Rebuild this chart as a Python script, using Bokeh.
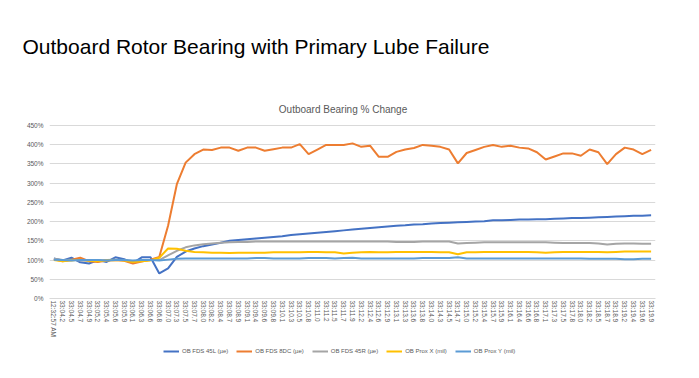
from bokeh.plotting import figure
from bokeh.layouts import column
from bokeh.models import (FactorRange, Range1d, FixedTicker, PrintfTickFormatter,
                          Legend, LegendItem, Label, Title)
from bokeh.embed import file_html
from bokeh.resources import INLINE

title_main = "Outboard Rotor Bearing with Primary Lube Failure"
title_chart = "Outboard Bearing % Change"

times = ["12:32:57 AM", "33:04.2", "33:04.5", "33:04.7", "33:04.9", "33:05.2", "33:05.4",
         "33:05.6", "33:05.9", "33:06.1", "33:06.3", "33:06.6", "33:06.8", "33:07.0",
         "33:07.3", "33:07.5", "33:07.7", "33:08.0", "33:08.2", "33:08.4", "33:08.7",
         "33:08.9", "33:09.1", "33:09.4", "33:09.6", "33:09.8", "33:10.1", "33:10.3",
         "33:10.5", "33:10.8", "33:11.0", "33:11.2", "33:11.5", "33:11.7", "33:11.9",
         "33:12.2", "33:12.4", "33:12.6", "33:12.9", "33:13.1", "33:13.3", "33:13.6",
         "33:13.8", "33:14.0", "33:14.3", "33:14.5", "33:14.7", "33:15.0", "33:15.2",
         "33:15.4", "33:15.7", "33:15.9", "33:16.1", "33:16.4", "33:16.6", "33:16.8",
         "33:17.1", "33:17.3", "33:17.5", "33:17.8", "33:18.0", "33:18.2", "33:18.5",
         "33:18.7", "33:18.9", "33:19.2", "33:19.4", "33:19.6", "33:19.9"]

fds_45l = [104, 99, 106, 94, 91, 100, 95, 107, 102, 92, 107, 107, 65, 78, 108, 122, 130, 136,
           140, 145, 150, 152, 154, 156, 158, 160, 162, 165, 167, 169, 171, 173, 175, 177,
           179, 181, 183, 185, 187, 189, 190, 192, 193, 195, 196, 197, 198, 199, 200, 201,
           203, 203, 204, 205, 205, 206, 206, 207, 208, 209, 209, 210, 211, 212, 213, 214,
           215, 215, 216]

fds_8dc = [102, 97, 101, 106, 97, 95, 99, 100, 98, 91, 96, 101, 108, 189, 297, 353, 375, 387,
           386, 392, 392, 384, 392, 392, 384, 388, 392, 392, 401, 375, 387, 399, 399, 399,
           403, 394, 397, 368, 368, 381, 387, 391, 399, 397, 394, 387, 351, 378, 386, 394,
           399, 394, 397, 392, 390, 380, 361, 369, 377, 377, 371, 387, 380, 349, 375, 392,
           387, 375, 386]

fds_45r = [103, 100, 101, 99, 98, 99, 100, 101, 100, 97, 98, 100, 100, 112, 124, 133, 138, 141,
           143, 145, 146, 147, 147, 148, 148, 148, 148, 148, 148, 148, 148, 148, 148, 148,
           148, 148, 148, 148, 148, 147, 147, 147, 148, 148, 148, 148, 143, 144, 145, 146,
           146, 146, 146, 146, 146, 146, 146, 145, 144, 144, 144, 144, 143, 140, 142, 143,
           143, 142, 142]

prox_x = [100, 97, 99, 101, 98, 97, 99, 100, 99, 95, 97, 99, 106, 130, 129, 124, 121, 120,
          119, 119, 118, 119, 119, 119, 119, 120, 120, 120, 120, 121, 121, 120, 120, 117,
          119, 120, 121, 120, 120, 121, 121, 121, 121, 121, 120, 120, 115, 120, 120, 121,
          121, 121, 121, 121, 121, 120, 119, 120, 121, 121, 121, 121, 121, 120, 121, 122,
          122, 122, 122]

prox_y = [101, 100, 99, 100, 100, 100, 99, 100, 100, 99, 100, 100, 99, 101, 103, 104, 104, 104,
          104, 104, 104, 104, 104, 105, 105, 104, 104, 104, 104, 105, 105, 105, 104, 105,
          106, 104, 104, 104, 104, 104, 104, 104, 105, 105, 105, 105, 107, 104, 104, 104,
          104, 104, 104, 104, 104, 104, 104, 104, 104, 104, 104, 103, 103, 103, 103, 102,
          102, 103, 103]

series_names = ["OB FDS 45L (\u00b5e)", "OB FDS 8DC (\u00b5e)", "OB FDS 45R (\u00b5e)",
                "OB Prox X (mil)", "OB Prox Y (mil)"]
series_values = [fds_45l, fds_8dc, fds_45r, prox_x, prox_y]
series_colors = ["#4472C4", "#ED7D31", "#A5A5A5", "#FFC000", "#5B9BD5"]
y_ticks = [0, 50, 100, 150, 200, 250, 300, 350, 400, 450]

FONT = "'Liberation Sans', sans-serif"
GREY_TEXT = "#595959"

# ---- chart figure ----
PX_PER_PCT = 173.2 / 450
TOP = 61
FRAME_H = 237
y_top = FRAME_H / PX_PER_PCT

p = figure(frame_width=606, frame_height=FRAME_H, output_backend="svg", toolbar_location=None,
           x_range=FactorRange(*times), y_range=Range1d(0, y_top),
           min_border_left=49, min_border_right=44, min_border_top=TOP,
           min_border_bottom=42)
p.outline_line_color = None
p.background_fill_color = "white"
p.border_fill_color = "white"
p.title.visible = False

p.add_layout(Title(text=title_main, align="left", offset=-27, standoff=8,
                   text_font=FONT, text_font_size="21px", text_font_style="normal",
                   text_color="#000000"), "above")

for name, vals, col in zip(series_names, series_values, series_colors):
    p.line(times, vals, line_color=col, line_width=2)

p.xgrid.grid_line_color = None
p.ygrid.grid_line_color = "#d9d9d9"
p.ygrid.grid_line_width = 1

ya = p.yaxis[0]
ya.ticker = FixedTicker(ticks=y_ticks)
ya.formatter = PrintfTickFormatter(format="%d%%")
ya.axis_line_color = None
ya.major_tick_line_color = None
ya.major_tick_out = 0
ya.minor_tick_line_color = None
ya.minor_tick_out = 0
ya.major_label_text_font = FONT
ya.major_label_text_font_size = "6.5px"
ya.major_label_text_color = GREY_TEXT
ya.major_label_standoff = 6

xa = p.xaxis[0]
xa.axis_line_color = "#d9d9d9"
xa.major_tick_line_color = None
xa.major_tick_out = 0
xa.minor_tick_line_color = None
xa.minor_tick_out = 0
xa.axis_label_standoff = 0
xa.major_label_orientation = "vertical"
xa.major_label_text_font = FONT
xa.major_label_text_font_size = "6.5px"
xa.major_label_text_color = GREY_TEXT
xa.major_label_standoff = 2

p.add_layout(Label(x=293.5, y=189, x_units="screen", y_units="screen", text=title_chart,
                   text_font=FONT, text_font_size="10px", text_color=GREY_TEXT,
                   text_align="center", text_baseline="middle"))

# ---- legend strip (series drawn out of view; only the legend shows) ----
lg = figure(width=699, height=20, output_backend="svg", toolbar_location=None,
            x_range=FactorRange(*times), y_range=Range1d(-20, -10),
            x_axis_type=None, y_axis_type=None, min_border=0)
lg.outline_line_color = None
lg.grid.visible = False
items = []
for name, vals, col in zip(series_names, series_values, series_colors):
    r = lg.line(times, vals, line_color=col, line_width=2)
    items.append(LegendItem(label=name, renderers=[r]))
legend = Legend(items=items, orientation="horizontal", location=(114, 6),
                label_text_font=FONT, label_text_font_size="6px",
                label_text_color=GREY_TEXT, glyph_width=16, glyph_height=6,
                label_standoff=3, spacing=8, padding=2, margin=0,
                border_line_color=None, background_fill_alpha=0)
lg.add_layout(legend, "center")

layout = column(p, lg, spacing=0)
open("out.html", "w").write(file_html(layout, INLINE))
